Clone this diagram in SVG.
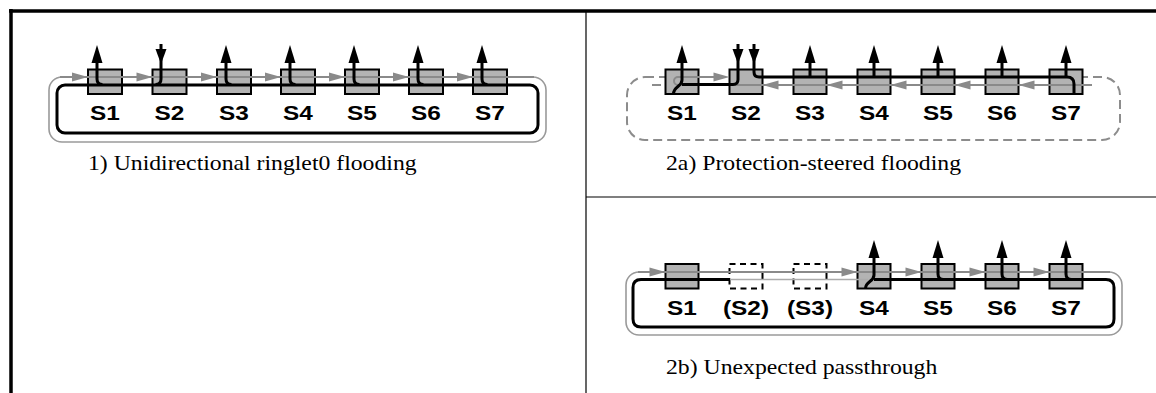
<svg xmlns="http://www.w3.org/2000/svg" xmlns:xlink="http://www.w3.org/1999/xlink" width="1156" height="393" viewBox="0 0 1156 393">
<style>
.frame{stroke:#000;stroke-width:3.5;fill:none}
.div{stroke:#000;stroke-width:1.2;fill:none}
.box{fill:#b3b3b3;stroke:#000;stroke-width:2}
.dbox{fill:none;stroke:#000;stroke-width:2;stroke-dasharray:6 4.5}
.lbl{font-family:"Liberation Sans",Arial,sans-serif;font-weight:bold;font-size:20px;text-anchor:middle;fill:#000}
.cap{font-family:"Liberation Serif","Times New Roman",serif;font-size:21px;fill:#000}
.ring{fill:none;stroke:#9a9a9a;stroke-width:1.6}
.dring{fill:none;stroke:#8c8c8c;stroke-width:2;stroke-dasharray:9 5}
.gline{fill:none;stroke:#8a8a8a;stroke-width:2}
.lgline{fill:none;stroke:#ababab;stroke-width:1.3}
.bring{fill:none;stroke:#000;stroke-width:3}
.bline{fill:none;stroke:#000;stroke-width:3}
</style>
<defs>
<path id="gR" d="M0,0 L-16,-4.5 L-16,4.5 Z" fill="#8a8a8a"/>
<path id="gL" d="M0,0 L16,-4.5 L16,4.5 Z" fill="#8a8a8a"/>
<path id="bU" d="M0,0 L-5.5,18 L5.5,18 Z" fill="#000"/>
<path id="bD" d="M0,0 L-5.5,-15 L5.5,-15 Z" fill="#000"/>
</defs>

<g id="frame">
<line class="frame" x1="9" y1="11" x2="1156" y2="11"/>
<line class="frame" x1="11" y1="9" x2="11" y2="393"/>
<line class="div" x1="586" y1="11" x2="586" y2="393"/>
<line class="div" x1="586" y1="197" x2="1156" y2="197"/>
</g>

<g id="rings">
<rect class="ring" x="49" y="77" width="497" height="65" rx="13"/>
<rect class="dring" x="627" y="77" width="493" height="63" rx="18"/>
<rect class="ring" x="626" y="272" width="496" height="63" rx="13"/>
</g>

<!-- Panel 1 nodes -->
<g id="p1-s1"><rect class="box" x="88" y="69.5" width="34" height="24.5"/><text class="lbl" transform="translate(105,120) scale(1.22,1)">S1</text></g>
<g id="p1-s2"><rect class="box" x="152.5" y="69.5" width="34" height="24.5"/><text class="lbl" transform="translate(169.5,120) scale(1.22,1)">S2</text></g>
<g id="p1-s3"><rect class="box" x="217" y="69.5" width="34" height="24.5"/><text class="lbl" transform="translate(234,120) scale(1.22,1)">S3</text></g>
<g id="p1-s4"><rect class="box" x="281" y="69.5" width="34" height="24.5"/><text class="lbl" transform="translate(298,120) scale(1.22,1)">S4</text></g>
<g id="p1-s5"><rect class="box" x="345" y="69.5" width="34" height="24.5"/><text class="lbl" transform="translate(362,120) scale(1.22,1)">S5</text></g>
<g id="p1-s6"><rect class="box" x="409" y="69.5" width="34" height="24.5"/><text class="lbl" transform="translate(426,120) scale(1.22,1)">S6</text></g>
<g id="p1-s7"><rect class="box" x="473" y="69.5" width="34" height="24.5"/><text class="lbl" transform="translate(490,120) scale(1.22,1)">S7</text></g>
<text id="cap1" class="cap" transform="translate(88,170) scale(1.13,1)">1) Unidirectional ringlet0 flooding</text>

<!-- Panel 2a nodes -->
<g id="p2a-s1"><rect class="box" x="665.5" y="69.5" width="33" height="24.5"/><text class="lbl" transform="translate(682,120) scale(1.22,1)">S1</text></g>
<g id="p2a-s2"><rect class="box" x="729.5" y="69.5" width="33" height="24.5"/><text class="lbl" transform="translate(746,120) scale(1.22,1)">S2</text></g>
<g id="p2a-s3"><rect class="box" x="793.5" y="69.5" width="33" height="24.5"/><text class="lbl" transform="translate(810,120) scale(1.22,1)">S3</text></g>
<g id="p2a-s4"><rect class="box" x="857.5" y="69.5" width="33" height="24.5"/><text class="lbl" transform="translate(874,120) scale(1.22,1)">S4</text></g>
<g id="p2a-s5"><rect class="box" x="921.5" y="69.5" width="33" height="24.5"/><text class="lbl" transform="translate(938,120) scale(1.22,1)">S5</text></g>
<g id="p2a-s6"><rect class="box" x="985.5" y="69.5" width="33" height="24.5"/><text class="lbl" transform="translate(1002,120) scale(1.22,1)">S6</text></g>
<g id="p2a-s7"><rect class="box" x="1049.5" y="69.5" width="33" height="24.5"/><text class="lbl" transform="translate(1066,120) scale(1.22,1)">S7</text></g>
<text id="cap2a" class="cap" transform="translate(666,170) scale(1.13,1)">2a) Protection-steered flooding</text>

<!-- Panel 2b nodes -->
<g id="p2b-s1"><rect class="box" x="665.5" y="264" width="33" height="24.5"/><text class="lbl" transform="translate(682,315) scale(1.22,1)">S1</text></g>
<g id="p2b-s2"><rect class="dbox" x="729.5" y="264" width="33" height="24.5"/><text class="lbl" transform="translate(746,315) scale(1.22,1)">(S2)</text></g>
<g id="p2b-s3"><rect class="dbox" x="793.5" y="264" width="33" height="24.5"/><text class="lbl" transform="translate(810,315) scale(1.22,1)">(S3)</text></g>
<g id="p2b-s4"><rect class="box" x="857.5" y="264" width="33" height="24.5"/><text class="lbl" transform="translate(874,315) scale(1.22,1)">S4</text></g>
<g id="p2b-s5"><rect class="box" x="921.5" y="264" width="33" height="24.5"/><text class="lbl" transform="translate(938,315) scale(1.22,1)">S5</text></g>
<g id="p2b-s6"><rect class="box" x="985.5" y="264" width="33" height="24.5"/><text class="lbl" transform="translate(1002,315) scale(1.22,1)">S6</text></g>
<g id="p2b-s7"><rect class="box" x="1049.5" y="264" width="33" height="24.5"/><text class="lbl" transform="translate(1066,315) scale(1.22,1)">S7</text></g>
<text id="cap2b" class="cap" transform="translate(666,374) scale(1.13,1)">2b) Unexpected passthrough</text>

<g id="connectors">
<!-- Panel 1 -->
<path class="gline" d="M60,77 H534"/>
<use xlink:href="#gR" x="88" y="77"/>
<use xlink:href="#gR" x="152.5" y="77"/>
<use xlink:href="#gR" x="217" y="77"/>
<use xlink:href="#gR" x="281" y="77"/>
<use xlink:href="#gR" x="345" y="77"/>
<use xlink:href="#gR" x="409" y="77"/>
<use xlink:href="#gR" x="473" y="77"/>
<rect class="bring" x="57" y="85" width="481" height="48" rx="8"/>
<path class="bline" d="M97,62 V79 Q97,84.5 102.5,84.5"/>
<path class="bline" d="M161,44 V79 Q161,84.5 155.5,84.5"/>
<path class="bline" d="M226,62 V79 Q226,84.5 231.5,84.5"/>
<path class="bline" d="M290,62 V79 Q290,84.5 295.5,84.5"/>
<path class="bline" d="M354,62 V79 Q354,84.5 359.5,84.5"/>
<path class="bline" d="M418,62 V79 Q418,84.5 423.5,84.5"/>
<path class="bline" d="M482,62 V79 Q482,84.5 487.5,84.5"/>
<use xlink:href="#bU" x="97" y="45"/>
<use xlink:href="#bD" x="161" y="64"/>
<use xlink:href="#bU" x="226" y="45"/>
<use xlink:href="#bU" x="290" y="45"/>
<use xlink:href="#bU" x="354" y="45"/>
<use xlink:href="#bU" x="418" y="45"/>
<use xlink:href="#bU" x="482" y="45"/>

<!-- Panel 2a -->
<path class="dring" d="M652,85 H665 M1083,85 H1095"/>
<path class="gline" d="M1083,85 H678 A4,4 0 0 1 678,77 H716"/>
<use xlink:href="#gR" x="729.5" y="77"/>
<use xlink:href="#gL" x="762.5" y="85"/>
<use xlink:href="#gL" x="826.5" y="85"/>
<use xlink:href="#gL" x="890.5" y="85"/>
<use xlink:href="#gL" x="954.5" y="85"/>
<use xlink:href="#gL" x="1018.5" y="85"/>
<path class="bline" d="M682,62 V80 C682,87 673.5,86 673.5,94"/>
<path class="bline" d="M682,84.5 H733 Q738,84.5 738,79.5 V44"/>
<path class="bline" d="M754,44 V72 Q754,77 759,77 H1067 Q1074,77 1074,84 V94"/>
<path class="bline" d="M810,77 V62 M874,77 V62 M938,77 V62 M1002,77 V62 M1066,77 V62"/>
<use xlink:href="#bU" x="682" y="45"/>
<use xlink:href="#bD" x="738" y="64"/>
<use xlink:href="#bD" x="754" y="64"/>
<use xlink:href="#bU" x="810" y="45"/>
<use xlink:href="#bU" x="874" y="45"/>
<use xlink:href="#bU" x="938" y="45"/>
<use xlink:href="#bU" x="1002" y="45"/>
<use xlink:href="#bU" x="1066" y="45"/>

<!-- Panel 2b -->
<path class="gline" d="M638,272 H1110"/>
<use xlink:href="#gR" x="665.5" y="272"/>
<use xlink:href="#gR" x="857.5" y="272"/>
<use xlink:href="#gR" x="921.5" y="272"/>
<use xlink:href="#gR" x="985.5" y="272"/>
<use xlink:href="#gR" x="1049.5" y="272"/>
<path class="lgline" d="M730,279.5 H868"/>
<path class="bring" d="M730,279.5 H641 Q633,279.5 633,287.5 V319 Q633,327 641,327 H1106 Q1114,327 1114,319 V287.5 Q1114,279.5 1106,279.5 H874"/>
<path class="bline" d="M874,257 V275 C874,282 865.5,281 865.5,288.5"/>
<path class="bline" d="M938,257 V274 Q938,279.5 943.5,279.5"/>
<path class="bline" d="M1002,257 V274 Q1002,279.5 1007.5,279.5"/>
<path class="bline" d="M1066,257 V274 Q1066,279.5 1071.5,279.5"/>
<use xlink:href="#bU" x="874" y="240"/>
<use xlink:href="#bU" x="938" y="240"/>
<use xlink:href="#bU" x="1002" y="240"/>
<use xlink:href="#bU" x="1066" y="240"/>
</g>
</svg>
